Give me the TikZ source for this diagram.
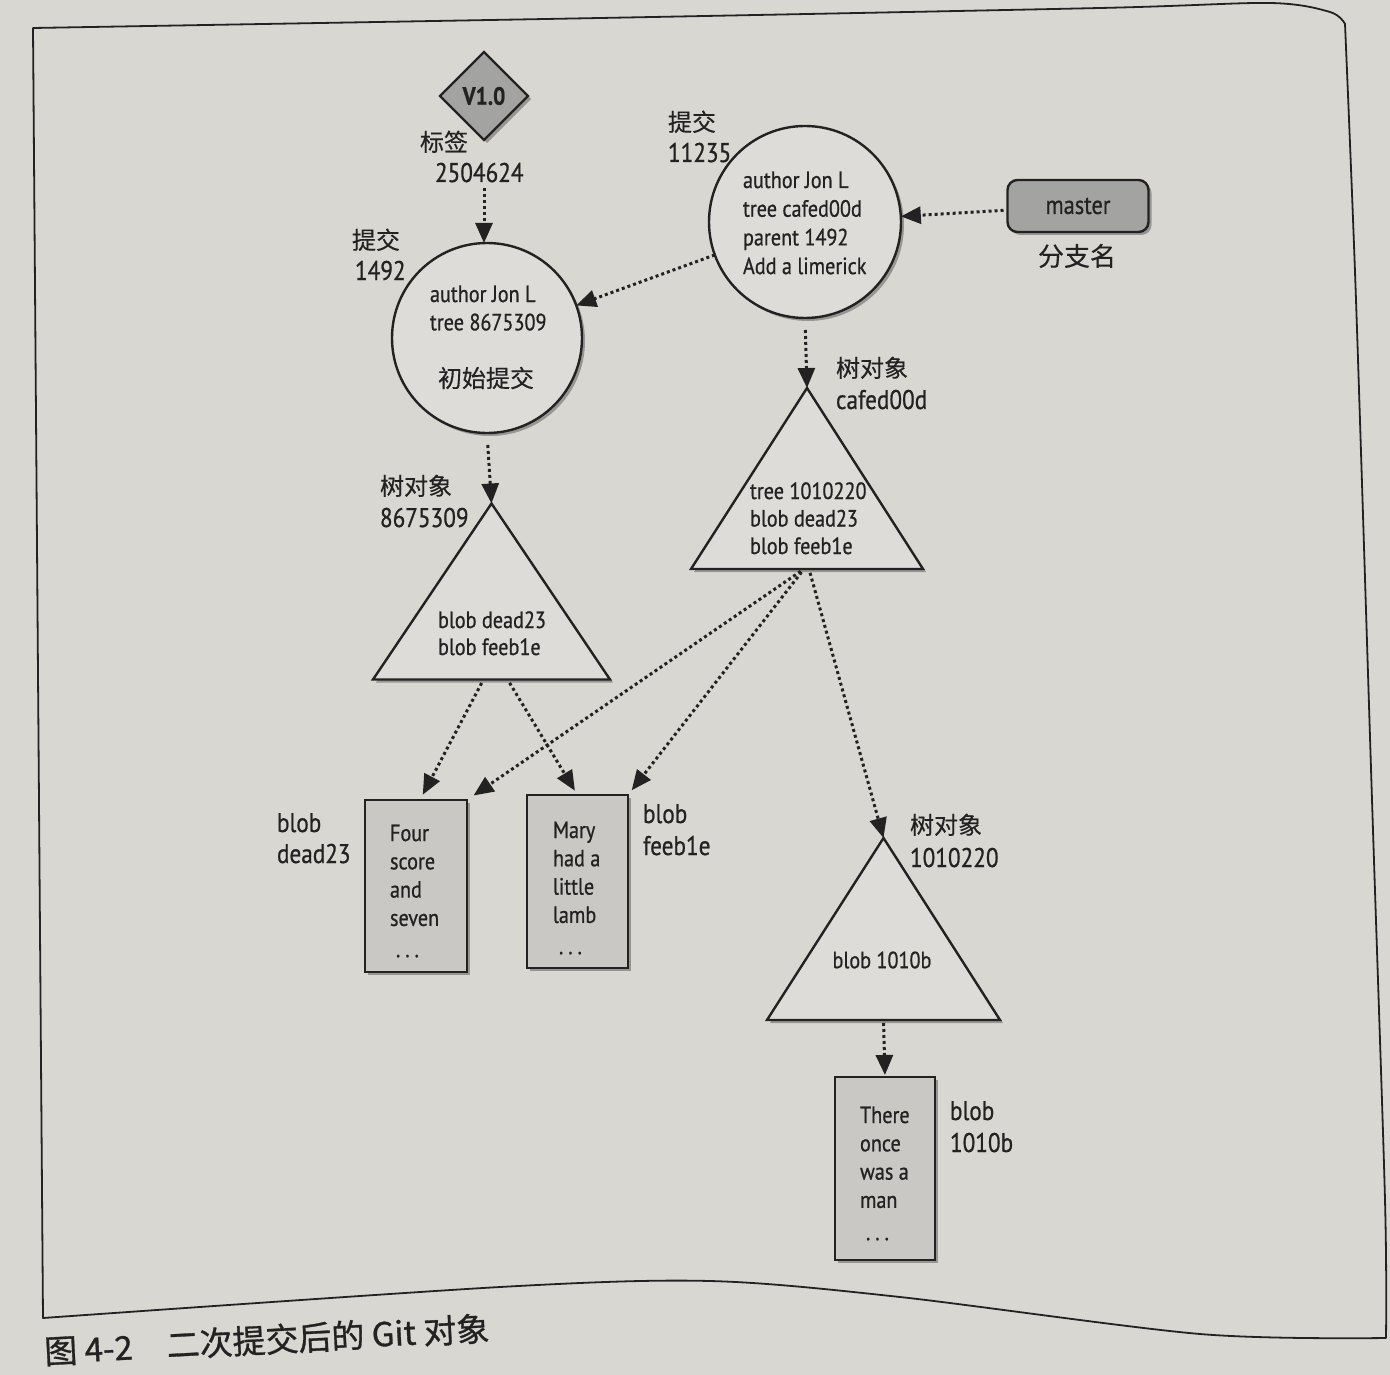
\documentclass[tikz,border=0pt]{standalone}
\usepackage{fontspec}
\setmainfont{PT Sans}[FakeStretch=0.86, FakeBold=0.7]
\newfontfamily\cjk{Noto Sans CJK SC}[FakeBold=0.4]
\newfontfamily\cjkcap{Noto Sans CJK SC}[FakeBold=0.9]
\usetikzlibrary{arrows.meta,shapes.geometric,shadows,calc}
\definecolor{paper}{HTML}{D9D7D2}
\definecolor{shapefill}{HTML}{DEDCD8}
\definecolor{blobfill}{HTML}{C9C8C4}
\definecolor{darkfill}{HTML}{A3A3A1}
\definecolor{ink}{HTML}{222222}
\newcommand\txtin{\fontsize{23.5}{28.3}\selectfont}
\newcommand\txtlbl{\fontsize{27}{31}\selectfont}
\newcommand\txtcjk{\cjk\fontsize{24}{28}\selectfont}
\newcommand\lns[1]{\begin{tabular}[t]{@{}l@{}}#1\end{tabular}}
\newcommand\dotsrow{\hspace*{6pt}.\hspace{5pt}.\hspace{5pt}.}
\begin{document}
\begin{tikzpicture}[x=1pt,y=-1pt,
  every node/.style={inner sep=0pt, outer sep=0pt, text=ink},
  shad/.style={drop shadow={shadow xshift=3pt, shadow yshift=-3pt, opacity=0.3, fill=black}},
  commit/.style={circle, draw=ink, line width=2.4pt, fill=shapefill, minimum size=#1, shad},
  tribox/.style={draw=none, rectangle},
  triface/.style={draw=ink, line width=2.4pt, fill=shapefill, line join=miter, shad},
  blobbox/.style={rectangle, draw=ink, line width=2.6pt, fill=blobfill, shad},
  refbox/.style={draw=ink, line width=2.4pt, fill=darkfill, shad},
  ptr/.style={draw=ink, line width=3pt, dash pattern=on 3pt off 3pt, -{Triangle[length=20pt,width=17pt]}},
  intext/.style={font=\txtin, anchor=base west},
  lbl/.style={font=\txtlbl, anchor=base west},
  cjklbl/.style={font=\txtcjk, anchor=base west}]
\useasboundingbox (0,0) rectangle (1390,1375);
\fill[paper] (0,0) rectangle (1390,1375);
% frame of the figure
\draw[ink, line width=1.8pt, line join=round]
  plot[smooth, tension=0.5] coordinates {(33,28) (600,18) (1100,8) (1270,3) (1330,12) (1345,24)}
  -- plot[smooth, tension=0.5] coordinates {(1345,24) (1356,300) (1372,800) (1385,1200) (1386,1338)}
  -- plot[smooth, tension=0.5] coordinates {(1386,1338) (1200,1334) (900,1297) (710,1281) (500,1287) (43,1318)}
  -- cycle;
% caption
\node[font=\cjkcap\fontsize{33}{33}\selectfont, anchor=base west, rotate=3] (cap) at (45,1364) {图 4-2\hspace{34pt}二次提交后的 Git 对象};

% tag
\node[diamond, aspect=1, minimum width=88, minimum height=88, refbox, font=\fontsize{25}{25}\selectfont\bfseries] (tag) at (484,96) {V1.0};
\node[cjklbl] (tagl) at (420,151) {标签};
\node[lbl] (tagnum) at (435,182) {2504624};

% commits
\node[commit=190] (c1) at (487,338) {};
\node[intext] (c1t) at (430,302) {\lns{author Jon L\\tree 8675309}};
\node[font=\txtcjk] (c1m) at (486,378) {初始提交};
\node[cjklbl] (c1l) at (352,249) {提交};
\node[lbl] (c1n) at (355,280) {1492};

\node[commit=192] (c2) at (805,222) {};
\node[intext, font=\fontsize{23.5}{28.7}\selectfont] (c2t) at (743,188) {\lns{author Jon L\\tree cafed00d\\parent 1492\\Add a limerick}};
\node[cjklbl] (c2l) at (668,131) {提交};
\node[lbl] (c2n) at (668,162) {11235};

% branch
\node[refbox, rectangle, rounded corners=10pt, minimum width=141, minimum height=52, font=\fontsize{26}{26}\selectfont] (master) at (1078,206) {master};
\node[font=\cjk\fontsize{26}{26}\selectfont] (brl) at (1077,256) {分支名};

% trees
\node[tribox, minimum width=232, minimum height=181] (tcafe) at (807,478.5) {};
\filldraw[triface] (tcafe.north) -- (tcafe.south east) -- (tcafe.south west) -- cycle;
\node[intext, font=\fontsize{23.5}{27.5}\selectfont] (tcafet) at (750,499) {\lns{tree 1010220\\blob dead23\\blob feeb1e}};
\node[cjklbl] (tcafel) at (836,377) {树对象};
\node[lbl] (tcafen) at (836,409) {cafed00d};

\node[tribox, minimum width=237, minimum height=176] (t8675) at (491.5,591.5) {};
\filldraw[triface] (t8675.north) -- (t8675.south east) -- (t8675.south west) -- cycle;
\node[intext, font=\fontsize{23.5}{27}\selectfont] (t8675t) at (438,628) {\lns{blob dead23\\blob feeb1e}};
\node[cjklbl] (t8675l) at (380,495) {树对象};
\node[lbl] (t8675n) at (380,527) {8675309};

\node[tribox, minimum width=233, minimum height=182] (t1010) at (883.5,929) {};
\filldraw[triface] (t1010.north) -- (t1010.south east) -- (t1010.south west) -- cycle;
\node[font=\txtin] (t1010t) at (882,960) {blob 1010b};
\node[cjklbl] (t1010l) at (910,834) {树对象};
\node[lbl] (t1010n) at (910,867) {1010220};

% blobs
\node[blobbox, minimum width=102, minimum height=172] (bdead) at (416,886) {};
\node[intext] (bdeadt) at (390,841) {\lns{Four\\score\\and\\seven\\[3pt]\dotsrow}};
\node[lbl] (bdeadl) at (277,832) {\lns{blob\\dead23}};

\node[blobbox, minimum width=101, minimum height=173] (bfeeb) at (577.5,881.5) {};
\node[intext] (bfeebt) at (553,838) {\lns{Mary\\had a\\little\\lamb\\[3pt]\dotsrow}};
\node[lbl, font=\fontsize{27}{32}\selectfont] (bfeebl) at (643,823) {\lns{blob\\feeb1e}};

\node[blobbox, minimum width=100, minimum height=183] (b1010) at (885,1168.5) {};
\node[intext] (b1010t) at (860,1123) {\lns{There\\once\\was a\\man\\[4pt]\dotsrow}};
\node[lbl, font=\fontsize{27}{32}\selectfont] (b1010l) at (950,1120) {\lns{blob\\1010b}};

% connectors
\draw[ptr, shorten <=6pt] (tagnum.south -| tag.south) -- (tag.south |- c1.north);
\draw[ptr, shorten <=4pt] (master) -- (c2);
\draw[ptr] (c2) -- (c1);
\draw[ptr, shorten <=12pt] (c2.south) -- (tcafe.north);
\draw[ptr, shorten <=12pt] (c1.south) -- (t8675.north);
\draw[ptr, shorten <=4pt, shorten >=6pt] ([xshift=-8pt]t8675.south) -- ([xshift=4pt]bdead.north);
\draw[ptr, shorten <=4pt, shorten >=5pt] ([xshift=16pt]t8675.south) -- (bfeeb.north);
\draw[ptr, shorten <=4pt, shorten >=8pt] ([xshift=-3pt]tcafe.south) -- (bdead.north east);
\draw[ptr, shorten <=4pt, shorten >=6pt] ([xshift=-3pt]tcafe.south) -- (bfeeb.north east);
\draw[ptr, shorten <=4pt] ([xshift=2pt]tcafe.south) -- (t1010.north);
\draw[ptr, shorten <=3pt, shorten >=2pt] (t1010.south) -- (b1010.north);
\end{tikzpicture}
\end{document}
